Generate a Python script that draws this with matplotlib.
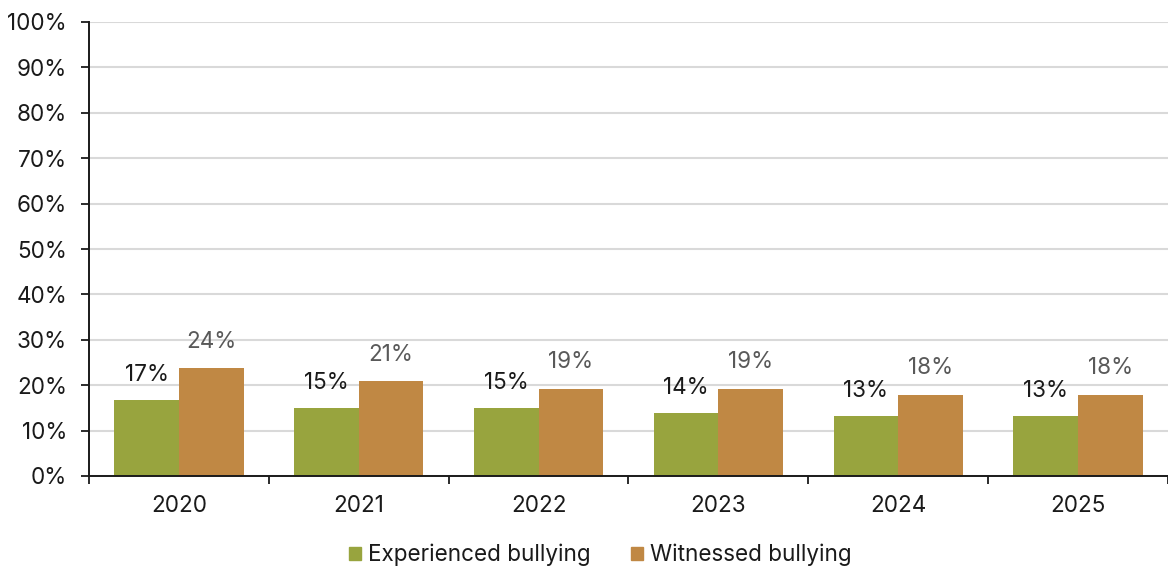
import matplotlib.pyplot as plt
import numpy as np
from matplotlib.patches import Patch

plt.rcParams['font.family'] = ['Inter', 'DejaVu Sans']

# data
years = ['2020', '2021', '2022', '2023', '2024', '2025']
experienced = [16.7, 15.0, 15.0, 13.9, 13.2, 13.2]
witnessed = [23.8, 20.9, 19.2, 19.2, 17.9, 17.9]
experienced_labels = ['17%', '15%', '15%', '14%', '13%', '13%']
witnessed_labels = ['24%', '21%', '19%', '19%', '18%', '18%']

green = '#98a43e'
orange = '#c08844'
fs = 16.2

fig = plt.figure(figsize=(11.68, 5.69), dpi=100)
ax = fig.add_axes([89 / 1168, 1 - 476 / 569, 1079 / 1168, 454 / 569])

x = np.arange(len(years))
w = 0.36
ax.bar(x - w / 2, experienced, w, color=green, zorder=3)
ax.bar(x + w / 2, witnessed, w, color=orange, zorder=3)

# value labels above the bars
for i in range(len(years)):
    ax.annotate(experienced_labels[i], (x[i] - w / 2, experienced[i]),
                xytext=(0, 18), textcoords='offset points',
                ha='center', va='center', fontsize=fs, color='#1a1a1a')
    ax.annotate(witnessed_labels[i], (x[i] + w / 2, witnessed[i]),
                xytext=(0, 19), textcoords='offset points',
                ha='center', va='center', fontsize=fs, color='#595959')

ax.set_ylim(0, 100)
ax.set_xlim(-0.5, -0.5 + 1079 / 180.8)
ax.set_yticks(np.arange(0, 101, 10))
ax.set_yticklabels([f'{v}%' for v in range(0, 101, 10)])
ax.set_xticks(x)
ax.set_xticklabels(years)
ax.set_xticks(np.arange(-0.5, 6, 1), minor=True)

ax.tick_params(axis='y', length=5.8, width=1.3, pad=10, labelsize=fs, colors='#1a1a1a')
ax.tick_params(axis='x', which='major', length=0, pad=13.5, labelsize=fs, labelcolor='#1a1a1a')
ax.tick_params(axis='x', which='minor', length=6, width=1.3, color='#1a1a1a')

ax.grid(axis='y', color='#d9d9d9', linewidth=1.5, zorder=0)
for s in ['top', 'right']:
    ax.spines[s].set_visible(False)
ax.spines['left'].set_linewidth(1.4)
ax.spines['bottom'].set_linewidth(1.4)
ax.spines['left'].set_color('#1a1a1a')
ax.spines['bottom'].set_color('#1a1a1a')
ax.spines['bottom'].set_zorder(4)

handles = [Patch(color=green, label='Experienced bullying'),
           Patch(color=orange, label='Witnessed bullying')]
fig.legend(handles=handles, loc='center', bbox_to_anchor=(600 / 1168, 1 - 555 / 569),
           ncol=2, frameon=False, fontsize=fs, handlelength=0.55, handleheight=0.55,
           handletextpad=0.3, columnspacing=1.8, labelcolor='#1a1a1a')

fig.savefig('out.png', dpi=100)
